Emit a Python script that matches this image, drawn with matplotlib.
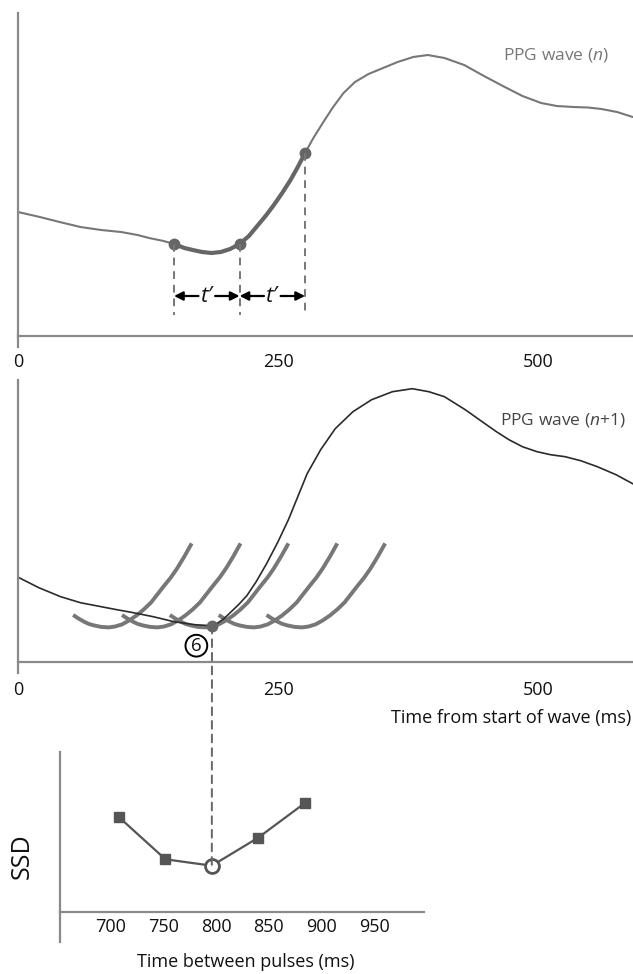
import matplotlib
matplotlib.use("Agg")
import matplotlib.pyplot as plt
from matplotlib.patches import ConnectionPatch

plt.rcParams['font.family'] = ['Open Sans', 'DejaVu Sans']
plt.rcParams['mathtext.fontset'] = 'custom'
plt.rcParams['mathtext.rm'] = 'Open Sans'
plt.rcParams['mathtext.it'] = 'Open Sans:italic'

# ---------------- data ----------------
# PPG wave (n): time (ms), amplitude (arb.)
wave_n_t = [0, 21, 40, 60, 80, 99, 115, 126, 140, 150, 160, 168, 177, 186, 195,
            204, 213, 222, 230, 238, 246, 254, 262, 269, 276, 284, 293, 303, 313,
            324, 337, 351, 365, 380, 394, 410, 429, 448, 468, 485, 503, 518, 534,
            548, 561, 576, 591]
wave_n_h = [124, 119, 114, 109, 106, 104, 101, 98, 95, 92, 88, 86, 84, 83, 84,
            87, 92, 100, 110, 120, 131, 143, 156, 169, 183, 198, 213, 229, 243,
            254, 262, 268, 274, 279, 281, 278, 271, 260, 249, 240, 233, 230, 229,
            228.5, 227, 224, 219]
# template segment markers (ms)
seg_marks = [150, 213, 276]

# PPG wave (n+1)
wave_n1_t = [1, 20, 41, 60, 80, 95, 111, 130, 150, 170, 186, 191, 198, 205, 212,
             220, 229, 239, 250, 260, 269, 278, 291, 305, 322, 340, 360, 379, 395,
             410, 430, 449, 460, 472, 485, 499, 512, 526, 541, 557, 575, 591]
wave_n1_h = [84, 74, 65, 59, 55, 52, 49, 45, 40, 37, 36, 38, 43, 50, 57,
             66, 80, 98, 120, 142, 165, 188, 212, 233, 250, 262, 270, 273, 270,
             265, 252, 238, 230, 222, 215, 210, 207, 205, 201, 195, 187, 178]

# shifted template curves
tmpl_t = [0, 5, 10, 15, 20, 27, 34, 40, 47, 54, 61, 68, 75, 81, 87, 94, 100, 107, 114]
tmpl_h = [12.4, 9, 6, 3.5, 2, 0.5, 0, 0.8, 3, 7, 12, 18, 25, 33, 41, 50, 59, 71, 84]
tmpl_starts = [53, 100, 146, 193, 239]
tmpl_base = 34.3
best_t, best_h = 186.5, 36

# SSD vs time between pulses
pulses = [708, 752, 796, 840, 884]
ssd = [94.7, 52.7, 46.3, 74.3, 108.7]
best_idx = 2
ssd_ticks = [700, 750, 800, 850, 900, 950]
wave_ticks = [0, 250, 500]

# ---------------- figure ----------------
W, H = 633, 974
fig = plt.figure(figsize=(W / 100, H / 100), dpi=100)


def rect(l, r, t, b):
    return [l / W, 1 - b / H, (r - l) / W, (b - t) / H]


AX_C = '#8a8a8a'
TXT = '#111111'


def style(ax, ylim, xlim, ticks, pad):
    ax.set_xlim(*xlim)
    ax.set_ylim(*ylim)
    for s in ['top', 'right']:
        ax.spines[s].set_visible(False)
    ax.spines['bottom'].set_position(('data', 0))
    for s in ['left', 'bottom']:
        ax.spines[s].set_color(AX_C)
        ax.spines[s].set_linewidth(1.6)
    ax.set_yticks([])
    ax.set_xticks(ticks)
    ax.tick_params(axis='x', length=0, pad=pad, labelsize=13, labelcolor=TXT)
    ax.patch.set_alpha(0)


# top panel
ax1 = fig.add_axes(rect(18, 633, 13, 347))
style(ax1, (-11, 323), (0, 591.3), wave_ticks, 12)
ax1.plot(wave_n_t, wave_n_h, color='#777777', lw=1.5, solid_capstyle='round')
seg_t = [t for t in wave_n_t if seg_marks[0] <= t <= seg_marks[2]]
seg_h = [h for t, h in zip(wave_n_t, wave_n_h) if seg_marks[0] <= t <= seg_marks[2]]
ax1.plot(seg_t, seg_h, color='#666666', lw=3, solid_capstyle='round')
mark_h = [wave_n_h[wave_n_t.index(t)] for t in seg_marks]
ax1.plot(seg_marks, mark_h, 'o', color='#666666', ms=7.5)
for t, h in zip(seg_marks, mark_h):
    ax1.plot([t, t], [h, 21], color='#777777', lw=1.4, ls=(0, (4, 3)))
arrow_y = 40
for a, b in [(seg_marks[0], seg_marks[1]), (seg_marks[1], seg_marks[2])]:
    mid = (a + b) / 2
    ax1.text(mid, arrow_y, 't\u2032', ha='center', va='center', fontsize=16,
             style='italic', color=TXT)
    ax1.annotate('', xy=(a, arrow_y), xytext=(mid - 8, arrow_y),
                 arrowprops=dict(arrowstyle='-|>', color='black', lw=1.6,
                                 mutation_scale=13, shrinkA=0, shrinkB=0))
    ax1.annotate('', xy=(b, arrow_y), xytext=(mid + 8, arrow_y),
                 arrowprops=dict(arrowstyle='-|>', color='black', lw=1.6,
                                 mutation_scale=13, shrinkA=0, shrinkB=0))
fig.text(503 / W, 1 - 55 / H, 'PPG wave ($n$)', fontsize=12.5, color='#777777',
         va='center', ha='left')

# middle panel
ax2 = fig.add_axes(rect(18, 633, 380, 673))
style(ax2, (-11.3, 281.7), (0, 591.3), wave_ticks, 14)
for s in tmpl_starts:
    ax2.plot([s + t for t in tmpl_t], [tmpl_base + h for h in tmpl_h],
             color='#777777', lw=2.8, solid_capstyle='butt')
ax2.plot(wave_n1_t, wave_n1_h, color='#2b2b2b', lw=1.2)
ax2.plot([best_t], [best_h], 'o', color='#666666', ms=7.5, zorder=5)
ax2.text(best_t - 15, best_h - 20, '6', fontsize=13.5, ha='center', va='center',
         color=TXT, bbox=dict(boxstyle='circle,pad=0.1', fc='white', ec='black', lw=1.4))
fig.text(500 / W, 1 - 420 / H, 'PPG wave ($n$+1)', fontsize=12.5, color='#444444',
         va='center', ha='left')
fig.text(631 / W, 1 - 718 / H, 'Time from start of wave (ms)', fontsize=13,
         color=TXT, va='center', ha='right')

# bottom panel
ax3 = fig.add_axes(rect(60, 424, 751.7, 941.7))
style(ax3, (-29.7, 160.3), (651.9, 997.4), ssd_ticks, 4)
ax3.plot(pulses, ssd, color='#555555', lw=1.6)
sq_x = [p for i, p in enumerate(pulses) if i != best_idx]
sq_y = [v for i, v in enumerate(ssd) if i != best_idx]
ax3.plot(sq_x, sq_y, 's', color='#555555', ms=7)
ax3.plot([pulses[best_idx]], [ssd[best_idx]], 'o', mfc='white', mec='#555555',
         mew=2, ms=10, zorder=4)
ax3.set_xlabel('Time between pulses (ms)', fontsize=13, color=TXT)
ax3.xaxis.set_label_coords(0.51, -0.06)
ax3.set_ylabel('SSD', fontsize=18, color=TXT)
ax3.yaxis.set_label_coords(-0.07, 0.45)

# dashed connector from best match to SSD minimum
con = ConnectionPatch(xyA=(best_t, best_h), coordsA=ax2.transData,
                      xyB=(pulses[best_idx], ssd[best_idx]), coordsB=ax3.transData,
                      color='#666666', lw=1.4, ls=(0, (4, 3)), zorder=3)
fig.add_artist(con)

fig.savefig('out.png', dpi=100)
